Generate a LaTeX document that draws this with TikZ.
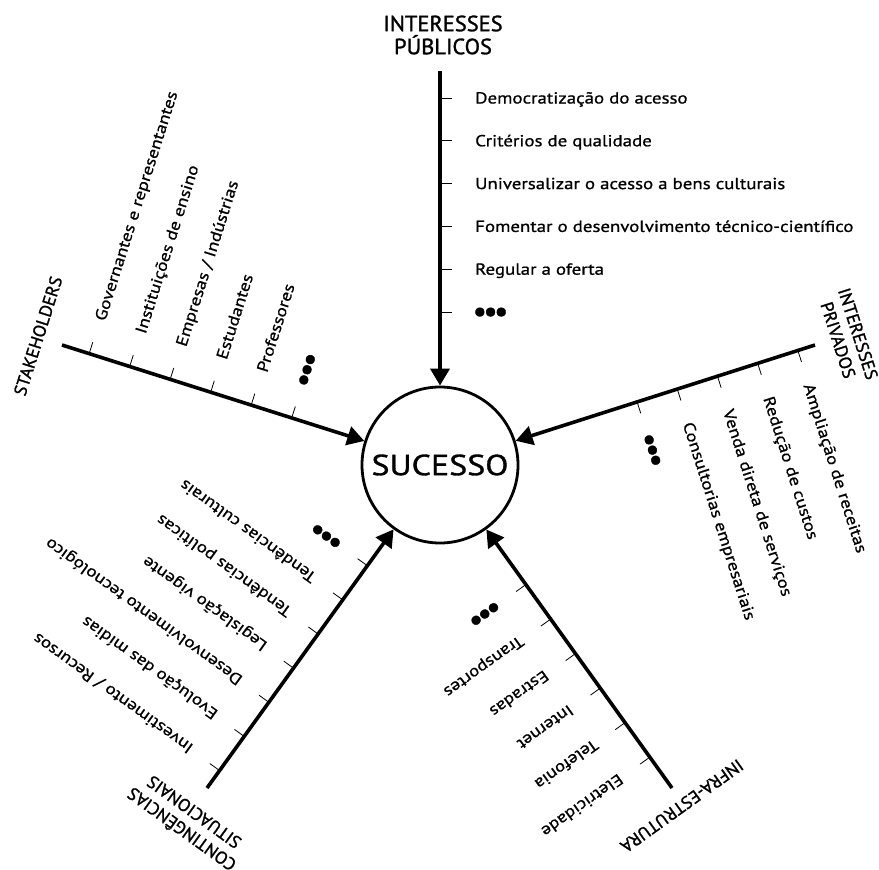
\documentclass[tikz,border=0pt]{standalone}
\usepackage{fontspec}
\setmainfont{PT Sans}
\newfontfamily\itemfont{PT Sans}[FakeStretch=1.18,FakeBold=0.9]
\newfontfamily\headfont{PT Sans}[FakeStretch=1.02,FakeBold=1.3]
\newfontfamily\hubfont{PT Sans}[FakeStretch=1.17,FakeBold=1.2]
\usetikzlibrary{arrows.meta,calc}

% ticks and labels of one spoke, in the spoke's own frame:
% the spoke runs along +y (downwards), labels sit on its +x side
\newcommand\spokelabels[4]{%
  \foreach \t [count=\i from 0] in {#4}{%
    \pgfmathsetmacro\d{#2+#3*\i}
    \draw[tick] (0,\d) -- (12,\d);
    \node[item] (#1\i) at (35,{\d+5.5}) {\t};
  }%
}
% the "more items" mark: three round bullets set close together
\newcommand\moremark{{\headfont\fontsize{31}{31}\selectfont
  \raisebox{-4.2pt}{\kern-2.5pt•\kern-3.6pt•\kern-3.6pt•}}}

\begin{document}
\begin{tikzpicture}[x=1pt,y=-1pt,
  hub/.style={circle,draw,line width=2.8pt,minimum size=156pt,inner sep=0pt,
    font=\hubfont\fontsize{29}{29}\selectfont},
  spoke/.style={line width=3.6pt,-{Triangle[length=17pt,width=19pt]}},
  tick/.style={line width=0.8pt},
  item/.style={anchor=base west,inner sep=0pt,font=\itemfont\fontsize{16}{16}\selectfont},
  heading/.style={align=center,inner sep=0pt,font=\headfont\fontsize{22}{23}\selectfont},
  subheading/.style={heading,font=\headfont\fontsize{17.5}{21}\selectfont},
]
\useasboundingbox (0,0) rectangle (879,870);

\node[hub] (c) at (440,465) {SUCESSO};

% start points of the five spokes
\coordinate (pub)   at (440,71);
\coordinate (stake) at (62,345);
\coordinate (priv)  at (815,345);
\coordinate (infra) at (672,788);
\coordinate (cont)  at (207,788);

\foreach \s in {pub,stake,priv,infra,cont}
  \draw[spoke] (\s) -- (c);

% public interests
\begin{scope}[shift={(pub)},transform shape]
  \node[heading] (pubhead) at (3,-36) {INTERESSES\\PÚBLICOS};
  \spokelabels{pubitem}{27}{42.8}{Democratização do acesso,Critérios de qualidade,
    Universalizar o acesso a bens culturais,
    Fomentar o desenvolvimento técnico-científico,Regular a oferta,\moremark}
\end{scope}

% stakeholders
\begin{scope}[shift={(stake)},rotate=72.39,transform shape]
  \node[subheading] (stakehead) at (1.3,-25.6) {STAKEHOLDERS};
  \spokelabels{stakeitem}{28.5}{42.5}{Governantes e representantes,
    Instituições de ensino,Empresas / Indústrias,Estudantes,Professores,\moremark}
\end{scope}

% private interests
\begin{scope}[shift={(priv)},rotate=287.74,transform shape]
  \node[subheading] (privhead) at (2.4,-34) {INTERESSES\\PRIVADOS};
  \spokelabels{privitem}{18}{42.2}{Ampliação de receitas,Redução de custos,
    Venda direta de serviços,Consultorias empresariais,\moremark}
\end{scope}

% infrastructure
\begin{scope}[shift={(infra)},rotate=215.69,transform shape]
  \node[subheading] (infrahead) at (2.4,-20.4) {INFRA-ESTRUTURA};
  \spokelabels{infraitem}{38}{42.5}{Eletricidade,Telefonia,Internet,Estradas,
    Transportes,\moremark}
\end{scope}

% situational contingencies
\begin{scope}[shift={(cont)},rotate=144.19,transform shape]
  \node[subheading] (conthead) at (-3.7,-39) {CONTINGÊNCIAS\\SITUACIONAIS};
  \spokelabels{contitem}{21.5}{42.1}{Investimento / Recursos,Evolução das mídias,
    Desenvolvimento tecnológico,Legislação vigente,Tendências políticas,
    Tendências culturais,\moremark}
\end{scope}
\end{tikzpicture}
\end{document}
